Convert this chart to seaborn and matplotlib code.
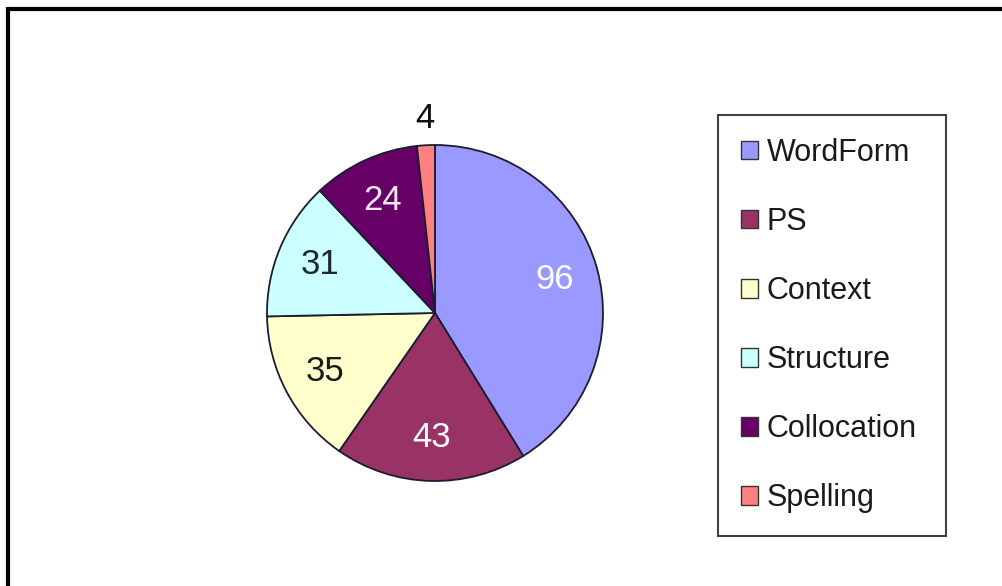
import numpy as np
import matplotlib
matplotlib.use("Agg")
import matplotlib.pyplot as plt
import seaborn as sns
from matplotlib.patches import Rectangle

categories = ["WordForm", "PS", "Context", "Structure", "Collocation", "Spelling"]
values = [96, 43, 35, 31, 24, 4]
colors = ["#9999FF", "#993366", "#FFFFCC", "#CCFFFF", "#660066", "#FF8080"]
label_colors = ["white", "white", "#1a1a1a", "#1a2a2a", "#f4e8f4", "#111111"]

sns.set_theme(style="white")
plt.rcParams["font.family"] = ["Liberation Sans", "DejaVu Sans"]

W, H = 1003, 586
fig = plt.figure(figsize=(W / 100, H / 100), dpi=100)
fig.patch.set_facecolor("white")

# pie axes placed so centre ~ (435, 313) px, radius ~168 px
cx, cy, r = 435, 313, 168
ax = fig.add_axes([(cx - r) / W, (H - cy - r) / H, 2 * r / W, 2 * r / H])
wedges, _ = ax.pie(values, colors=colors, startangle=90, counterclock=False,
                   wedgeprops=dict(edgecolor="#1c1c30", linewidth=1.3))
ax.set_xlim(-1, 1)
ax.set_ylim(-1, 1)
ax.set_aspect("equal")
ax.axis("off")

total = sum(values)
for w, v, lc in zip(wedges, values, label_colors):
    ang = np.deg2rad((w.theta1 + w.theta2) / 2)
    rr = 0.74 if v / total > 0.05 else 1.16
    ax.text(rr * np.cos(ang), rr * np.sin(ang), str(v), ha="center", va="center",
            fontsize=25, color=lc, clip_on=False)

leg = fig.legend(wedges, categories, loc="upper left",
                 bbox_to_anchor=(718 / W, 0, 228 / W, 1 - 115 / H), mode="expand",
                 fontsize=22, frameon=True, fancybox=False,
                 handlelength=0.55, handleheight=0.55, handletextpad=0.3,
                 labelspacing=1.28, borderpad=0.75, borderaxespad=0)
fr = leg.get_frame()
fr.set_edgecolor("#111111")
fr.set_linewidth(1.5)
for t in leg.get_texts():
    t.set_color("#1a1a1a")
for h in leg.legend_handles:
    h.set_edgecolor("#333333")
    h.set_linewidth(1.0)

# outer black frame (visible on left and top)
fig.patches.append(Rectangle((8 / W, -0.05), 1.2, 1 - 9 / H + 0.05,
                             transform=fig.transFigure, fill=False,
                             edgecolor="black", linewidth=3.0))

fig.savefig("out.png", dpi=100)
